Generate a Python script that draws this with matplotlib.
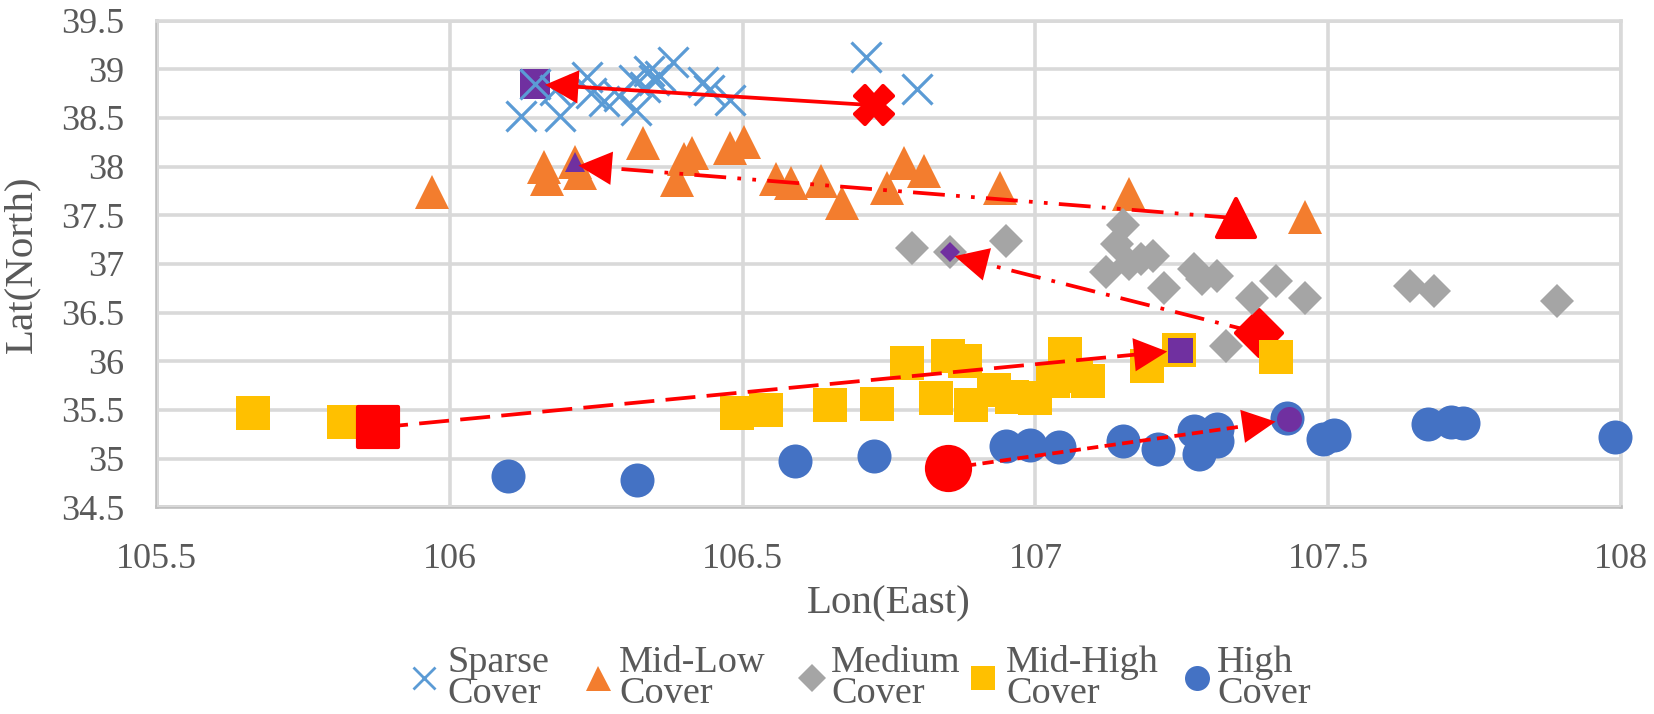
import matplotlib
matplotlib.use('Agg')
import matplotlib.pyplot as plt
from matplotlib.lines import Line2D
from matplotlib.markers import MarkerStyle

plt.rcParams['font.family'] = ['Liberation Serif', 'DejaVu Serif']

sparse_lon = [106.146,106.122,106.188,106.18,106.234,106.242,106.264,106.29,106.315,106.318,106.34,106.349,106.334,106.36,106.382,106.432,106.443,106.478,106.71,106.798]
sparse_lat = [38.85,38.52,38.52,38.79,38.92,38.76,38.67,38.72,38.89,38.58,38.98,38.89,38.82,38.93,39.07,38.87,38.79,38.68,39.13,38.80]
midlow_lon = [105.97,106.162,106.167,106.214,106.223,106.33,106.4,106.413,106.389,106.479,106.502,106.558,106.582,106.634,106.67,106.747,106.775,106.81,106.94,107.16,107.46]
midlow_lat = [37.74,38.0,37.87,38.05,37.93,38.24,38.08,38.14,37.86,38.19,38.25,37.87,37.83,37.85,37.63,37.78,38.04,37.95,37.78,37.72,37.48]
medium_lon = [106.79,106.855,106.95,107.15,107.14,107.12,107.16,107.18,107.2,107.22,107.27,107.285,107.31,107.325,107.37,107.41,107.46,107.64,107.68,107.89]
medium_lat = [37.16,37.12,37.24,37.4,37.2,36.92,37.0,37.05,37.08,36.75,36.95,36.85,36.88,36.16,36.65,36.82,36.65,36.77,36.72,36.62]
midhigh_lon = [105.665,105.82,106.49,106.54,106.65,106.73,106.78,106.83,106.85,106.88,106.89,106.93,106.96,107.0,107.03,107.05,107.07,107.09,107.19,107.245,107.41]
midhigh_lat = [35.47,35.38,35.47,35.5,35.55,35.56,35.98,35.62,36.05,36.0,35.55,35.7,35.63,35.62,35.8,36.07,35.85,35.8,35.95,36.12,36.04]
high_lon = [106.1,106.32,106.59,106.725,106.95,106.99,107.04,107.15,107.21,107.27,107.28,107.31,107.31,107.43,107.49,107.51,107.67,107.71,107.73,107.99]
high_lat = [34.82,34.78,34.98,35.03,35.13,35.14,35.12,35.18,35.1,35.28,35.05,35.3,35.18,35.42,35.2,35.24,35.36,35.38,35.37,35.22]

names = ['Sparse\nCover','Mid-Low\nCover','Medium\nCover','Mid-High\nCover','High\nCover']
colors = ['#5B9BD5','#F37D2E','#A5A5A5','#FFC000','#4472C4']
markers = ['x','^','D','s','o']
sizes = [22,25,17,24,24.5]

start_lon = [106.725,107.343,107.381,105.878,106.85]
start_lat = [38.63,37.47,36.29,35.32,34.90]
end_lon = [106.146,106.214,106.855,107.246,107.432]
end_lat = [38.85,38.05,37.12,36.12,35.41]
tip_lon = [106.163,106.22,106.862,107.225,107.41]
tip_lat = [38.84,38.01,37.08,36.10,35.38]
styles = [(0,()),(0,(8.5,3,1,3,1,3)),(0,(8,3,1,3)),(0,(8,3)),(0,(3,1.7))]
start_markers = ['X','^','D','s','o']
start_sizes = [27,28,23,29,31]
purple = '#7030A0'

xticks = [105.5,106,106.5,107,107.5,108]
xlabels = ['105.5','106','106.5','107','107.5','108']
yticks = [34.5,35,35.5,36,36.5,37,37.5,38,38.5,39,39.5]
ylabels = ['34.5','35','35.5','36','36.5','37','37.5','38','38.5','39','39.5']

W, H = 1654, 714
PW, PH = 1568, 677
fig = plt.figure(figsize=(W/100, H/100), dpi=100)
ax = fig.add_axes([148.5/PW, 1-481/PH, (1537-148.5)/PW, (481-19.5)/PH])
ax.set_xlim(105.5,108); ax.set_ylim(34.5,39.5)
ax.set_xticks(xticks, xlabels); ax.set_yticks(yticks, ylabels)
ax.grid(True, color='#D9D9D9', lw=2.6)
ax.set_axisbelow(True)
for name, s in ax.spines.items():
    s.set_color('#BFBFBF' if name in ('left','bottom') else '#D9D9D9')
    s.set_linewidth(2.6); s.set_zorder(0.5)
ax.tick_params(length=0, labelsize=26, labelcolor='#595959')
ax.tick_params(axis='x', pad=26)
ax.tick_params(axis='y', pad=23)
ax.set_xlabel('Lon(East)', fontsize=29.5, color='#595959', labelpad=6.5)
ax.set_ylabel('Lat(North)', fontsize=29.5, color='#595959', labelpad=15)

data = [(sparse_lon,sparse_lat),(midlow_lon,midlow_lat),(medium_lon,medium_lat),(midhigh_lon,midhigh_lat),(high_lon,high_lat)]
for i,(lo,la) in enumerate(data):
    kw = dict(mew=2.3, mfc='none') if markers[i]=='x' else dict(mew=0)
    ax.plot(lo, la, ls='none', marker=markers[i], ms=sizes[i], color=colors[i],
            zorder=3+(0.5 if i==0 else 0), clip_on=False, **kw)

# highlighted end points
ends = ['s','^','D','s','o']
end_sizes = [22,15,10,18,18]
for i in range(5):
    ax.plot(end_lon[i], end_lat[i], ls='none', marker=ends[i], ms=end_sizes[i], color=purple, mew=0,
            zorder=3.3 if i==0 else 4)

# red start points and arrows
for i in range(5):
    z = 2.9 if i==2 else 5
    ax.plot(start_lon[i], start_lat[i], ls='none', marker=MarkerStyle(start_markers[i], joinstyle='round'),
            ms=start_sizes[i], color='red', mew=3, zorder=z)
    fx = start_lon[i]+(tip_lon[i]-start_lon[i])*0.96
    fy = start_lat[i]+(tip_lat[i]-start_lat[i])*0.96
    ax.plot([start_lon[i],fx],[start_lat[i],fy], color='red', lw=2.7, linestyle=styles[i], zorder=5)
    ax.annotate('', xy=(tip_lon[i],tip_lat[i]), xytext=(start_lon[i],start_lat[i]), zorder=6,
                arrowprops=dict(arrowstyle='-|>,head_length=1.0,head_width=0.5', mutation_scale=24,
                                color='red', lw=0, shrinkA=0, shrinkB=0))

# legend, laid out by hand because its columns are not evenly spaced
legend_marker_x = [402,567,770,932,1135]
legend_text_x = [424,587,788,954,1154]
legend_ms = [16,18,14,17,18]
for i in range(5):
    fig.add_artist(Line2D([legend_marker_x[i]/PW],[1-643/PH], transform=fig.transFigure, ls='none',
                          marker=markers[i], color=colors[i], ms=legend_ms[i], mew=2 if i==0 else 0))
    fig.text(legend_text_x[i]/PW, 1-643/PH, names[i], fontsize=27.5, color='#595959',
             ha='left', va='center', linespacing=0.85)
fig.savefig('out.png', dpi=100)
